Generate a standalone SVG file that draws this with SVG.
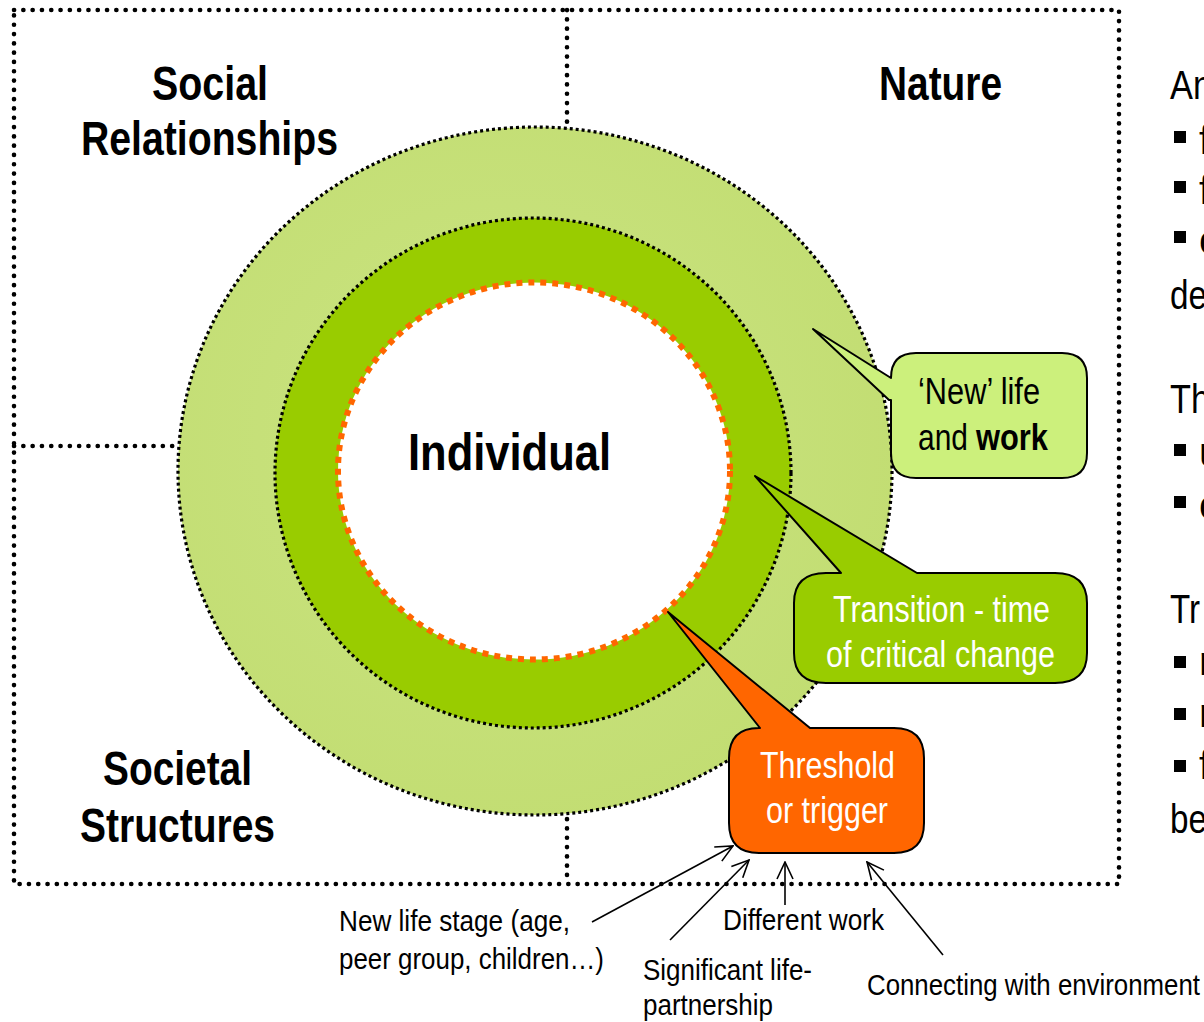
<svg xmlns="http://www.w3.org/2000/svg" width="1204" height="1022" viewBox="0 0 1204 1022">
<style>
.nar{font-family:"Liberation Sans Narrow","Liberation Sans",Arial,sans-serif}
.lbl{font-size:48px;font-weight:bold;fill:#000}
.side{font-size:40px;fill:#000}
.call{font-size:36px}
.bot{font-size:30px;fill:#000}
.box{fill:none;stroke:#000;stroke-width:4.6;stroke-dasharray:0.1 9.2;stroke-linecap:round}
.ring{fill:none;stroke:#000;stroke-width:3.2;stroke-dasharray:3 3}
.co{stroke:#000;stroke-width:2;stroke-linejoin:round}
.arr{stroke:#000;stroke-width:1.6;fill:none;marker-end:url(#ah)}
</style>
<defs>
<marker id="ah" viewBox="0 0 20 20" refX="19" refY="10" markerWidth="20" markerHeight="20" markerUnits="userSpaceOnUse" orient="auto">
<path d="M2,2 L19,10 L2,18" fill="none" stroke="#000" stroke-width="1.6"/>
</marker>
<radialGradient id="og" cx="0.45" cy="0.45" r="0.6">
<stop offset="0" stop-color="#cbe482"/>
<stop offset="1" stop-color="#c2dd72"/>
</radialGradient>
</defs>
<rect width="1204" height="1022" fill="#fff"/>
<g id="quadrants">
<rect class="box" x="14" y="10" width="1105" height="874"/>
<line class="box" x1="567" y1="10" x2="567" y2="884"/>
<line class="box" x1="14" y1="446" x2="567" y2="446"/>
</g>
<g id="outer-ring">
<ellipse cx="535" cy="471" rx="357" ry="344" fill="url(#og)"/>
<ellipse class="ring" cx="535" cy="471" rx="357" ry="344"/>
</g>
<g id="transition-ring">
<ellipse cx="533" cy="473" rx="258" ry="255" fill="#99cc00"/>
<ellipse class="ring" cx="533" cy="473" rx="258" ry="255"/>
</g>
<g id="individual">
<ellipse cx="534" cy="471" rx="196" ry="188.5" fill="#fff"/>
<ellipse cx="534" cy="471" rx="196" ry="188.5" fill="none" stroke="#ff6600" stroke-width="6" stroke-dasharray="6 6"/>
<text class="nar" x="408" y="470" font-size="52" font-weight="bold" textLength="203" lengthAdjust="spacingAndGlyphs">Individual</text>
</g>
<g id="labels" class="nar lbl">
<text x="152" y="100" textLength="116" lengthAdjust="spacingAndGlyphs">Social</text>
<text x="81" y="155" textLength="257" lengthAdjust="spacingAndGlyphs">Relationships</text>
<text x="879" y="100" textLength="123" lengthAdjust="spacingAndGlyphs">Nature</text>
<text x="103" y="785" textLength="149" lengthAdjust="spacingAndGlyphs">Societal</text>
<text x="80" y="842" textLength="195" lengthAdjust="spacingAndGlyphs">Structures</text>
</g>
<g id="callout-new-life">
<path class="co" fill="#ccf07c" d="M891,378 L813,329 L889,400 L891,400 L891,453 Q891,478 916,478 L1062,478 Q1087,478 1087,453 L1087,378 Q1087,353 1062,353 L916,353 Q891,353 891,378 Z"/>
<text class="nar call" x="918" y="404" fill="#000" textLength="122" lengthAdjust="spacingAndGlyphs">‘New’ life</text>
<text class="nar call" x="918" y="450" fill="#000" textLength="50" lengthAdjust="spacingAndGlyphs">and</text>
<text class="nar call" x="976" y="450" fill="#000" font-weight="bold" textLength="72" lengthAdjust="spacingAndGlyphs">work</text>
</g>
<g id="callout-transition">
<path class="co" fill="#99cc00" d="M826,573 L841,573 L755,476 L917,573 L1055,573 Q1087,573 1087,603 L1087,653 Q1087,683 1055,683 L826,683 Q794,683 794,653 L794,603 Q794,573 826,573 Z"/>
<text class="nar call" x="833" y="622" fill="#fff" textLength="217" lengthAdjust="spacingAndGlyphs">Transition - time</text>
<text class="nar call" x="826" y="667" fill="#fff" textLength="229" lengthAdjust="spacingAndGlyphs">of critical change</text>
</g>
<g id="callout-threshold">
<path class="co" fill="#ff6600" d="M759,728 L760,728 L668,612 L810,728 L894,728 Q924,728 924,758 L924,823 Q924,853 894,853 L759,853 Q729,853 729,823 L729,758 Q729,728 759,728 Z"/>
<text class="nar call" x="760" y="778" fill="#fff" textLength="135" lengthAdjust="spacingAndGlyphs">Threshold</text>
<text class="nar call" x="766" y="823" fill="#fff" textLength="122" lengthAdjust="spacingAndGlyphs">or trigger</text>
</g>
<g id="connectors">
<line class="arr" x1="592" y1="922" x2="733" y2="846"/>
<line class="arr" x1="670" y1="940" x2="749" y2="860"/>
<line class="arr" x1="785" y1="905" x2="785" y2="862"/>
<line class="arr" x1="943" y1="955" x2="867" y2="862"/>
</g>
<g id="trigger-labels" class="nar bot">
<text x="339" y="931" textLength="231" lengthAdjust="spacingAndGlyphs">New life stage (age,</text>
<text x="339" y="969" textLength="265" lengthAdjust="spacingAndGlyphs">peer group, children…)</text>
<text x="723" y="930" textLength="161" lengthAdjust="spacingAndGlyphs">Different work</text>
<text x="643" y="980" textLength="169" lengthAdjust="spacingAndGlyphs">Significant life-</text>
<text x="643" y="1015" textLength="130" lengthAdjust="spacingAndGlyphs">partnership</text>
<text x="867" y="995" textLength="333" lengthAdjust="spacingAndGlyphs">Connecting with environment</text>
</g>
<g id="side-text" class="nar side">
<text x="1170" y="99" textLength="42" lengthAdjust="spacingAndGlyphs">An</text>
<rect x="1174" y="131" width="12" height="12"/><text x="1199" y="154">f</text>
<rect x="1174" y="181" width="12" height="12"/><text x="1199" y="204">f</text>
<rect x="1174" y="231" width="12" height="12"/><text x="1199" y="254">c</text>
<text x="1170" y="309" textLength="37" lengthAdjust="spacingAndGlyphs">de</text>
<text x="1170" y="413" textLength="40" lengthAdjust="spacingAndGlyphs">Th</text>
<rect x="1174" y="444" width="12" height="12"/><text x="1199" y="466">u</text>
<rect x="1174" y="496" width="12" height="12"/><text x="1199" y="519">c</text>
<text x="1170" y="623" textLength="30" lengthAdjust="spacingAndGlyphs">Tr</text>
<rect x="1174" y="656" width="12" height="12"/><text x="1199" y="675">r</text>
<rect x="1174" y="708" width="12" height="12"/><text x="1199" y="727">r</text>
<rect x="1174" y="760" width="12" height="12"/><text x="1199" y="779">f</text>
<text x="1170" y="833" textLength="37" lengthAdjust="spacingAndGlyphs">be</text>
</g>
</svg>
